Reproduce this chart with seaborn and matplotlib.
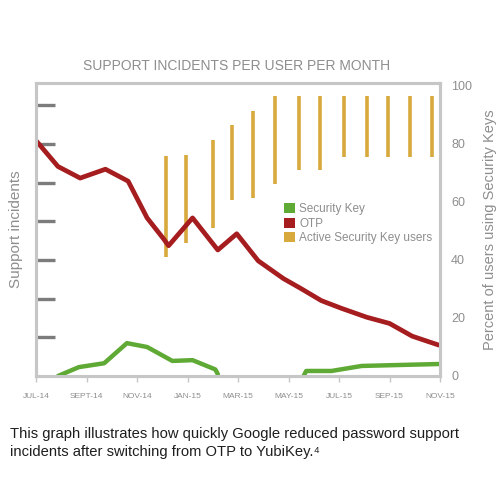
import pandas as pd
import matplotlib.pyplot as plt
import seaborn as sns
from matplotlib.patches import Patch

# months since JUL-14 (fractional positions)
otp_month = [0, 0.87, 1.75, 2.75, 3.65, 4.4, 5.05, 5.25, 6.2, 7.2, 7.95, 8.8,
             9.8, 10.5, 11.3, 12.1, 13.1, 14.0, 14.9, 15.95]
otp_value = [6.09, 5.42, 5.12, 5.35, 5.04, 4.09, 3.55, 3.37, 4.09, 3.26, 3.68, 2.98,
             2.52, 2.26, 1.95, 1.75, 1.52, 1.36, 1.03, 0.80]

key_month = [0.87, 1.7, 2.7, 3.6, 4.4, 5.4, 6.2, 7.1, 7.2,
             10.6, 10.7, 11.7, 12.9, 14.1, 15.95]
key_value = [0.0, 0.23, 0.33, 0.85, 0.75, 0.39, 0.41, 0.17, 0.05,
             0.0, 0.13, 0.13, 0.26, 0.28, 0.31]
key_segment = [1, 1, 1, 1, 1, 1, 1, 1, 1,
               2, 2, 2, 2, 2, 2]

bar_month = [5.13, 5.96, 7.0, 7.75, 8.6, 9.46, 10.4, 11.25, 12.2, 13.1, 13.96, 14.8, 15.7]
bar_low = [41.0, 45.7, 50.9, 60.7, 61.1, 65.9, 71.0, 71.0, 75.4, 75.4, 75.4, 75.4, 75.4]
bar_high = [75.8, 76.1, 81.2, 86.3, 91.1, 96.2, 96.2, 96.2, 96.2, 96.2, 96.2, 96.2, 96.2]

tick_months = [0, 2, 4, 6, 8, 10, 12, 14, 16]
tick_labels = ['JUL-14', 'SEPT-14', 'NOV-14', 'JAN-15', 'MAR-15', 'MAY-15', 'JUL-15', 'SEP-15', 'NOV-15']

otp_df = pd.DataFrame({'month': otp_month, 'value': otp_value})
key_df = pd.DataFrame({'month': key_month, 'value': key_value, 'segment': key_segment})

RED = '#a61d20'
GREEN = '#5fa935'
GOLD = '#d8a93c'
GRAY_TXT = '#8e8e8e'
FRAME = '#c6c6c6'
TICK = '#7c7c7c'

sns.set_style('white')
plt.rcParams['font.family'] = ['Liberation Sans', 'DejaVu Sans']

fig = plt.figure(figsize=(5, 5), dpi=100)
ax = fig.add_axes([0.072, 0.248, 0.808, 0.586])
ax2 = ax.twinx()

# active security key users as vertical range bars (right axis)
ax2.vlines(bar_month, bar_low, bar_high, color=GOLD, linewidth=2.6)

# lines on left axis, drawn above the bars
sns.lineplot(data=otp_df, x='month', y='value', color=RED, linewidth=3.4, ax=ax)
sns.lineplot(data=key_df, x='month', y='value', units='segment', estimator=None,
             color=GREEN, linewidth=3.2, ax=ax)
ax.set_zorder(ax2.get_zorder() + 1)
ax.patch.set_visible(False)

ax.set_xlim(0, 16)
ax.set_ylim(0, 7.58)
ax2.set_ylim(0, 100.8)

# left axis: unlabeled inward ticks
ax.set_yticks([1, 2, 3, 4, 5, 6, 7])
ax.set_yticklabels([])
ax.tick_params(axis='y', direction='in', length=14, width=2.4, color=TICK, left=True, right=False)

# right axis
ax2.set_yticks([0, 20, 40, 60, 80, 100])
ax2.tick_params(axis='y', direction='in', length=13, width=2.4, color=TICK,
                labelsize=9, labelcolor=GRAY_TXT, pad=8)
for t in ax2.yaxis.get_major_ticks():
    if t.get_loc() in (0, 100):
        t.tick2line.set_visible(False)

# x axis
ax.set_xticks(tick_months)
ax.set_xticklabels(tick_labels)
ax.tick_params(axis='x', direction='out', length=4, width=1, color=FRAME,
               labelsize=6, labelcolor=GRAY_TXT, pad=8, bottom=True)

for a in (ax, ax2):
    for s in a.spines.values():
        s.set_visible(True)
        s.set_color(FRAME)
        s.set_linewidth(2.2)

ax.set_xlabel('')
ax.set_ylabel('Support incidents', color=GRAY_TXT, fontsize=11, labelpad=6)
ax2.set_ylabel('Percent of users using Security Keys', color=GRAY_TXT, fontsize=10.5, labelpad=8)

fig.text(0.474, 0.868, 'SUPPORT INCIDENTS PER USER PER MONTH', ha='center', va='center',
         color=GRAY_TXT, fontsize=10)

handles = [Patch(facecolor=GREEN, edgecolor='none', label='Security Key'),
           Patch(facecolor=RED, edgecolor='none', label='OTP'),
           Patch(facecolor=GOLD, edgecolor='none', label='Active Security Key users')]
fig.legend(handles=handles, loc='upper left', bbox_to_anchor=(0.556, 0.605),
           frameon=False, fontsize=8.5, labelcolor=GRAY_TXT, handlelength=0.9,
           handleheight=0.9, handletextpad=0.4, labelspacing=0.2, borderpad=0)

fig.text(0.02, 0.114, 'This graph illustrates how quickly Google reduced password support\n'
         'incidents after switching from OTP to YubiKey.\u2074',
         ha='left', va='center', color='#1e1e1e', fontsize=10.6, linespacing=1.3)

fig.savefig('out.png', dpi=100, facecolor='white')
